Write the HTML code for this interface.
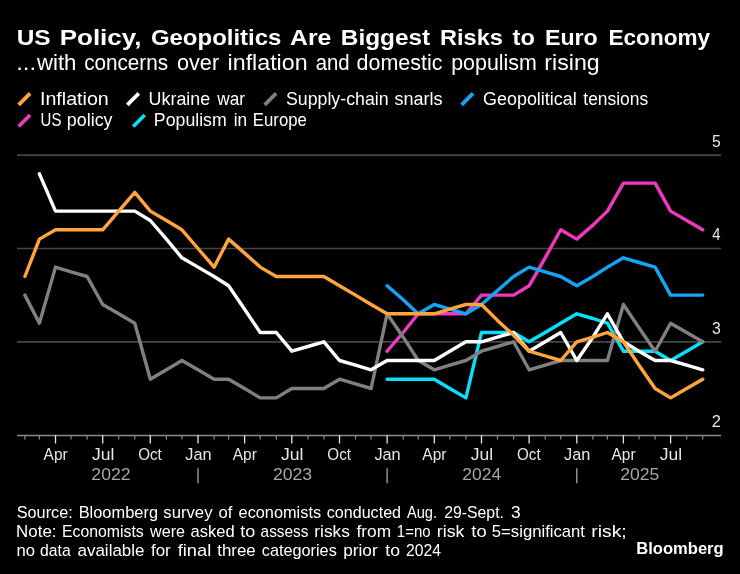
<!DOCTYPE html>
<html><head><meta charset="utf-8"><title>US Policy, Geopolitics Are Biggest Risks to Euro Economy</title>
<style>
html,body{margin:0;padding:0;background:#000;}
body{width:740px;height:574px;position:relative;overflow:hidden;font-family:"Liberation Sans",sans-serif;}
svg{position:absolute;left:0;top:0;}
svg.txt{will-change:transform;}
svg.txt text{font-family:"Liberation Sans",sans-serif;white-space:pre;}
</style></head>
<body>
<svg width="740" height="574" viewBox="0 0 740 574">
<line x1="17.0" x2="721.0" y1="155.1" y2="155.1" stroke="#464646" stroke-width="1.7"/>
<line x1="17.0" x2="721.0" y1="248.5" y2="248.5" stroke="#464646" stroke-width="1.7"/>
<line x1="17.0" x2="721.0" y1="341.8" y2="341.8" stroke="#464646" stroke-width="1.7"/>
<line x1="17.0" x2="721.0" y1="435.5" y2="435.5" stroke="#8a8a8a" stroke-width="1.4"/>
<line x1="24.9" x2="24.9" y1="435.2" y2="439.5" stroke="#8c8c8c" stroke-width="1.2"/>
<line x1="39.4" x2="39.4" y1="435.2" y2="439.5" stroke="#8c8c8c" stroke-width="1.2"/>
<line x1="55.5" x2="55.5" y1="435.2" y2="443.5" stroke="#e6e6e6" stroke-width="1.3"/>
<line x1="71.0" x2="71.0" y1="435.2" y2="439.5" stroke="#8c8c8c" stroke-width="1.2"/>
<line x1="87.1" x2="87.1" y1="435.2" y2="439.5" stroke="#8c8c8c" stroke-width="1.2"/>
<line x1="102.7" x2="102.7" y1="435.2" y2="443.5" stroke="#e6e6e6" stroke-width="1.3"/>
<line x1="118.7" x2="118.7" y1="435.2" y2="439.5" stroke="#8c8c8c" stroke-width="1.2"/>
<line x1="134.8" x2="134.8" y1="435.2" y2="439.5" stroke="#8c8c8c" stroke-width="1.2"/>
<line x1="150.3" x2="150.3" y1="435.2" y2="443.5" stroke="#e6e6e6" stroke-width="1.3"/>
<line x1="166.4" x2="166.4" y1="435.2" y2="439.5" stroke="#8c8c8c" stroke-width="1.2"/>
<line x1="181.9" x2="181.9" y1="435.2" y2="439.5" stroke="#8c8c8c" stroke-width="1.2"/>
<line x1="198.0" x2="198.0" y1="435.2" y2="443.5" stroke="#e6e6e6" stroke-width="1.3"/>
<line x1="214.1" x2="214.1" y1="435.2" y2="439.5" stroke="#8c8c8c" stroke-width="1.2"/>
<line x1="228.6" x2="228.6" y1="435.2" y2="439.5" stroke="#8c8c8c" stroke-width="1.2"/>
<line x1="244.6" x2="244.6" y1="435.2" y2="443.5" stroke="#e6e6e6" stroke-width="1.3"/>
<line x1="260.2" x2="260.2" y1="435.2" y2="439.5" stroke="#8c8c8c" stroke-width="1.2"/>
<line x1="276.3" x2="276.3" y1="435.2" y2="439.5" stroke="#8c8c8c" stroke-width="1.2"/>
<line x1="291.8" x2="291.8" y1="435.2" y2="443.5" stroke="#e6e6e6" stroke-width="1.3"/>
<line x1="307.9" x2="307.9" y1="435.2" y2="439.5" stroke="#8c8c8c" stroke-width="1.2"/>
<line x1="323.9" x2="323.9" y1="435.2" y2="439.5" stroke="#8c8c8c" stroke-width="1.2"/>
<line x1="339.5" x2="339.5" y1="435.2" y2="443.5" stroke="#e6e6e6" stroke-width="1.3"/>
<line x1="355.5" x2="355.5" y1="435.2" y2="439.5" stroke="#8c8c8c" stroke-width="1.2"/>
<line x1="371.1" x2="371.1" y1="435.2" y2="439.5" stroke="#8c8c8c" stroke-width="1.2"/>
<line x1="387.1" x2="387.1" y1="435.2" y2="443.5" stroke="#e6e6e6" stroke-width="1.3"/>
<line x1="403.2" x2="403.2" y1="435.2" y2="439.5" stroke="#8c8c8c" stroke-width="1.2"/>
<line x1="418.2" x2="418.2" y1="435.2" y2="439.5" stroke="#8c8c8c" stroke-width="1.2"/>
<line x1="434.3" x2="434.3" y1="435.2" y2="443.5" stroke="#e6e6e6" stroke-width="1.3"/>
<line x1="449.8" x2="449.8" y1="435.2" y2="439.5" stroke="#8c8c8c" stroke-width="1.2"/>
<line x1="465.9" x2="465.9" y1="435.2" y2="439.5" stroke="#8c8c8c" stroke-width="1.2"/>
<line x1="481.5" x2="481.5" y1="435.2" y2="443.5" stroke="#e6e6e6" stroke-width="1.3"/>
<line x1="497.5" x2="497.5" y1="435.2" y2="439.5" stroke="#8c8c8c" stroke-width="1.2"/>
<line x1="513.6" x2="513.6" y1="435.2" y2="439.5" stroke="#8c8c8c" stroke-width="1.2"/>
<line x1="529.1" x2="529.1" y1="435.2" y2="443.5" stroke="#e6e6e6" stroke-width="1.3"/>
<line x1="545.2" x2="545.2" y1="435.2" y2="439.5" stroke="#8c8c8c" stroke-width="1.2"/>
<line x1="560.7" x2="560.7" y1="435.2" y2="439.5" stroke="#8c8c8c" stroke-width="1.2"/>
<line x1="576.8" x2="576.8" y1="435.2" y2="443.5" stroke="#e6e6e6" stroke-width="1.3"/>
<line x1="592.9" x2="592.9" y1="435.2" y2="439.5" stroke="#8c8c8c" stroke-width="1.2"/>
<line x1="607.4" x2="607.4" y1="435.2" y2="439.5" stroke="#8c8c8c" stroke-width="1.2"/>
<line x1="623.4" x2="623.4" y1="435.2" y2="443.5" stroke="#e6e6e6" stroke-width="1.3"/>
<line x1="639.0" x2="639.0" y1="435.2" y2="439.5" stroke="#8c8c8c" stroke-width="1.2"/>
<line x1="655.1" x2="655.1" y1="435.2" y2="439.5" stroke="#8c8c8c" stroke-width="1.2"/>
<line x1="670.6" x2="670.6" y1="435.2" y2="443.5" stroke="#e6e6e6" stroke-width="1.3"/>
<line x1="686.7" x2="686.7" y1="435.2" y2="439.5" stroke="#8c8c8c" stroke-width="1.2"/>
<line x1="702.7" x2="702.7" y1="435.2" y2="439.5" stroke="#8c8c8c" stroke-width="1.2"/>
<line x1="198.0" x2="198.0" y1="468.3" y2="483.3" stroke="#a6a6a6" stroke-width="1.3"/>
<line x1="387.1" x2="387.1" y1="468.3" y2="483.3" stroke="#a6a6a6" stroke-width="1.3"/>
<line x1="576.8" x2="576.8" y1="468.3" y2="483.3" stroke="#a6a6a6" stroke-width="1.3"/>
<polyline points="387.1,379.2 403.2,379.2 418.2,379.2 434.3,379.2 449.8,388.5 465.9,397.9 481.5,332.5 497.5,332.5 513.6,332.5 529.1,341.8 545.2,332.5 560.7,323.2 576.8,313.8 592.9,318.5 607.4,323.2 623.4,351.2 639.0,351.2 655.1,351.2 670.6,360.5 686.7,351.2 702.7,341.8" fill="none" stroke="#08e0fa" stroke-width="3.4" stroke-linejoin="round" stroke-linecap="round"/>
<polyline points="387.1,351.2 403.2,332.5 418.2,313.8 434.3,313.8 449.8,313.8 465.9,313.8 481.5,295.1 497.5,295.1 513.6,295.1 529.1,285.8 545.2,257.8 560.7,229.8 576.8,239.1 592.9,225.1 607.4,211.1 623.4,183.1 639.0,183.1 655.1,183.1 670.6,211.1 686.7,220.5 702.7,229.8" fill="none" stroke="#f038c0" stroke-width="3.4" stroke-linejoin="round" stroke-linecap="round"/>
<polyline points="387.1,285.8 403.2,299.8 418.2,313.8 434.3,304.5 449.8,309.2 465.9,313.8 481.5,304.5 497.5,290.5 513.6,276.5 529.1,267.1 545.2,271.8 560.7,276.5 576.8,285.8 592.9,276.5 607.4,267.1 623.4,257.8 639.0,262.5 655.1,267.1 670.6,295.1 686.7,295.1 702.7,295.1" fill="none" stroke="#12a5f8" stroke-width="3.4" stroke-linejoin="round" stroke-linecap="round"/>
<polyline points="24.9,295.1 39.4,323.2 55.5,267.1 71.0,271.8 87.1,276.5 102.7,304.5 118.7,313.8 134.8,323.2 150.3,379.2 166.4,369.8 181.9,360.5 198.0,369.8 214.1,379.2 228.6,379.2 244.6,388.5 260.2,397.9 276.3,397.9 291.8,388.5 307.9,388.5 323.9,388.5 339.5,379.2 355.5,383.8 371.1,388.5 387.1,313.8 403.2,337.2 418.2,360.5 434.3,369.8 449.8,365.2 465.9,360.5 481.5,351.2 497.5,346.5 513.6,341.8 529.1,369.8 545.2,365.2 560.7,360.5 576.8,360.5 592.9,360.5 607.4,360.5 623.4,304.5 639.0,327.8 655.1,351.2 670.6,323.2 686.7,332.5 702.7,341.8" fill="none" stroke="#808080" stroke-width="3.4" stroke-linejoin="round" stroke-linecap="round"/>
<polyline points="39.4,173.8 55.5,211.1 71.0,211.1 87.1,211.1 102.7,211.1 118.7,211.1 134.8,211.1 150.3,220.5 166.4,239.1 181.9,257.8 198.0,267.1 214.1,276.5 228.6,285.8 244.6,309.2 260.2,332.5 276.3,332.5 291.8,351.2 307.9,346.5 323.9,341.8 339.5,360.5 355.5,365.2 371.1,369.8 387.1,360.5 403.2,360.5 418.2,360.5 434.3,360.5 449.8,351.2 465.9,341.8 481.5,341.8 497.5,337.2 513.6,332.5 529.1,351.2 545.2,341.8 560.7,332.5 576.8,360.5 592.9,337.2 607.4,313.8 623.4,341.8 639.0,351.2 655.1,360.5 670.6,360.5 686.7,365.2 702.7,369.8" fill="none" stroke="#ffffff" stroke-width="3.4" stroke-linejoin="round" stroke-linecap="round"/>
<polyline points="24.9,276.5 39.4,239.1 55.5,229.8 71.0,229.8 87.1,229.8 102.7,229.8 118.7,211.1 134.8,192.4 150.3,211.1 166.4,220.5 181.9,229.8 198.0,248.5 214.1,267.1 228.6,239.1 244.6,253.1 260.2,267.1 276.3,276.5 291.8,276.5 307.9,276.5 323.9,276.5 339.5,285.8 355.5,295.1 371.1,304.5 387.1,313.8 403.2,313.8 418.2,313.8 434.3,313.8 449.8,309.2 465.9,304.5 481.5,304.5 497.5,320.4 513.6,335.3 529.1,351.2 545.2,355.8 560.7,360.5 576.8,341.8 592.9,337.2 607.4,332.5 623.4,341.8 639.0,365.2 655.1,388.5 670.6,397.9 686.7,388.5 702.7,379.2" fill="none" stroke="#ffa53a" stroke-width="3.4" stroke-linejoin="round" stroke-linecap="round"/>
<line x1="18.65" y1="104.85" x2="30.15" y2="93.35" stroke="#ffa53a" stroke-width="3.7"/>
<line x1="127.30" y1="104.85" x2="138.80" y2="93.35" stroke="#ffffff" stroke-width="3.7"/>
<line x1="264.65" y1="104.85" x2="276.15" y2="93.35" stroke="#808080" stroke-width="3.7"/>
<line x1="461.55" y1="104.85" x2="473.05" y2="93.35" stroke="#12a5f8" stroke-width="3.7"/>
<line x1="18.65" y1="126.55" x2="30.15" y2="115.05" stroke="#f038c0" stroke-width="3.7"/>
<line x1="133.20" y1="126.55" x2="144.70" y2="115.05" stroke="#08e0fa" stroke-width="3.7"/>
</svg>
<svg class="txt" width="740" height="574" viewBox="0 0 740 574">
<text transform="translate(16.63,45) scale(1.0710,1)" font-size="22.8" font-weight="700" fill="#fff">US</text>
<text transform="translate(59.68,45) scale(1.1397,1)" font-size="22.8" font-weight="700" fill="#fff">Policy,</text>
<text transform="translate(150.92,45) scale(1.0515,1)" font-size="22.8" font-weight="700" fill="#fff">Geopolitics</text>
<text transform="translate(290.11,45) scale(1.0849,1)" font-size="22.8" font-weight="700" fill="#fff">Are</text>
<text transform="translate(340.79,45) scale(1.0693,1)" font-size="22.8" font-weight="700" fill="#fff">Biggest</text>
<text transform="translate(440.05,45) scale(1.0323,1)" font-size="22.8" font-weight="700" fill="#fff">Risks</text>
<text transform="translate(512.62,45) scale(1.0314,1)" font-size="22.8" font-weight="700" fill="#fff">to</text>
<text transform="translate(544.97,45) scale(1.0173,1)" font-size="22.8" font-weight="700" fill="#fff">Euro</text>
<text transform="translate(608.51,45) scale(0.9901,1)" font-size="22.8" font-weight="700" fill="#fff">Economy</text>
<text transform="translate(16.22,70) scale(1.0778,1)" font-size="22.2" fill="#fff">...</text>
<text transform="translate(37.04,70) scale(0.9975,1)" font-size="22.2" fill="#fff">with</text>
<text transform="translate(84.13,70) scale(0.9326,1)" font-size="22.2" fill="#fff">concerns</text>
<text transform="translate(176.99,70) scale(0.9763,1)" font-size="22.2" fill="#fff">over</text>
<text transform="translate(227.57,70) scale(1.0457,1)" font-size="22.2" fill="#fff">inflation</text>
<text transform="translate(315.74,70) scale(0.9171,1)" font-size="22.2" fill="#fff">and</text>
<text transform="translate(356.60,70) scale(0.9678,1)" font-size="22.2" fill="#fff">domestic</text>
<text transform="translate(451.23,70) scale(0.9630,1)" font-size="22.2" fill="#fff">populism</text>
<text transform="translate(544.37,70) scale(1.0424,1)" font-size="22.2" fill="#fff">rising</text>
<text transform="translate(39.94,105) scale(1.1165,1)" font-size="17.6" fill="#fff">Inflation</text>
<text transform="translate(148.62,105) scale(1.0167,1)" font-size="17.6" fill="#fff">Ukraine</text>
<text transform="translate(217.33,105) scale(0.9784,1)" font-size="17.6" fill="#fff">war</text>
<text transform="translate(285.95,105) scale(1.0092,1)" font-size="17.6" fill="#fff">Supply-chain</text>
<text transform="translate(394.51,105) scale(1.0251,1)" font-size="17.6" fill="#fff">snarls</text>
<text transform="translate(483.10,105) scale(1.0176,1)" font-size="17.6" fill="#fff">Geopolitical</text>
<text transform="translate(583.34,105) scale(0.9898,1)" font-size="17.6" fill="#fff">tensions</text>
<text transform="translate(40.60,126) scale(0.8520,1)" font-size="17.6" fill="#fff">US</text>
<text transform="translate(66.86,126) scale(1.0150,1)" font-size="17.6" fill="#fff">policy</text>
<text transform="translate(153.85,126) scale(1.0071,1)" font-size="17.6" fill="#fff">Populism</text>
<text transform="translate(233.66,126) scale(0.9820,1)" font-size="17.6" fill="#fff">in</text>
<text transform="translate(252.82,126) scale(0.9537,1)" font-size="17.6" fill="#fff">Europe</text>
<text transform="translate(16.77,518) scale(0.9333,1)" font-size="17.4" fill="#fff">Source:</text>
<text transform="translate(78.65,518) scale(0.9436,1)" font-size="17.4" fill="#fff">Bloomberg</text>
<text transform="translate(163.30,518) scale(0.9608,1)" font-size="17.4" fill="#fff">survey</text>
<text transform="translate(218.55,518) scale(0.9591,1)" font-size="17.4" fill="#fff">of</text>
<text transform="translate(238.56,518) scale(0.9388,1)" font-size="17.4" fill="#fff">economists</text>
<text transform="translate(326.82,518) scale(0.9241,1)" font-size="17.4" fill="#fff">conducted</text>
<text transform="translate(406.97,518) scale(0.8413,1)" font-size="17.4" fill="#fff">Aug.</text>
<text transform="translate(444.21,518) scale(0.9081,1)" font-size="17.4" fill="#fff">29-Sept.</text>
<text transform="translate(511.09,518) scale(0.9982,1)" font-size="17.4" fill="#fff">3</text>
<text transform="translate(16.11,537) scale(0.9721,1)" font-size="17.4" fill="#fff">Note:</text>
<text transform="translate(61.95,537) scale(0.9104,1)" font-size="17.4" fill="#fff">Economists</text>
<text transform="translate(150.03,537) scale(0.9263,1)" font-size="17.4" fill="#fff">were</text>
<text transform="translate(190.55,537) scale(0.9534,1)" font-size="17.4" fill="#fff">asked</text>
<text transform="translate(240.23,537) scale(1.0342,1)" font-size="17.4" fill="#fff">to</text>
<text transform="translate(260.60,537) scale(0.8856,1)" font-size="17.4" fill="#fff">assess</text>
<text transform="translate(314.36,537) scale(0.9932,1)" font-size="17.4" fill="#fff">risks</text>
<text transform="translate(356.51,537) scale(0.9948,1)" font-size="17.4" fill="#fff">from</text>
<text transform="translate(396.86,537) scale(0.8614,1)" font-size="17.4" fill="#fff">1=no</text>
<text transform="translate(436.83,537) scale(1.0215,1)" font-size="17.4" fill="#fff">risk</text>
<text transform="translate(471.32,537) scale(1.0563,1)" font-size="17.4" fill="#fff">to</text>
<text transform="translate(491.83,537) scale(0.9596,1)" font-size="17.4" fill="#fff">5=significant</text>
<text transform="translate(591.22,537) scale(1.1138,1)" font-size="17.4" fill="#fff">risk;</text>
<text transform="translate(16.40,556) scale(0.9579,1)" font-size="17.4" fill="#fff">no</text>
<text transform="translate(40.09,556) scale(0.9051,1)" font-size="17.4" fill="#fff">data</text>
<text transform="translate(77.54,556) scale(0.9750,1)" font-size="17.4" fill="#fff">available</text>
<text transform="translate(151.01,556) scale(0.9730,1)" font-size="17.4" fill="#fff">for</text>
<text transform="translate(177.74,556) scale(1.0485,1)" font-size="17.4" fill="#fff">final</text>
<text transform="translate(217.25,556) scale(0.9708,1)" font-size="17.4" fill="#fff">three</text>
<text transform="translate(261.82,556) scale(0.9344,1)" font-size="17.4" fill="#fff">categories</text>
<text transform="translate(343.14,556) scale(0.9948,1)" font-size="17.4" fill="#fff">prior</text>
<text transform="translate(385.23,556) scale(1.0157,1)" font-size="17.4" fill="#fff">to</text>
<text transform="translate(405.96,556) scale(0.9043,1)" font-size="17.4" fill="#fff">2024</text>
<text transform="translate(636.21,554) scale(0.9752,1)" font-size="17" font-weight="700" fill="#fff">Bloomberg</text>
<text transform="translate(43.57,460) scale(0.9211,1)" font-size="16.8" fill="#e6e6e6">Apr</text>
<text transform="translate(91.89,460) scale(1.0443,1)" font-size="16.8" fill="#e6e6e6">Jul</text>
<text transform="translate(138.22,460) scale(0.9036,1)" font-size="16.8" fill="#e6e6e6">Oct</text>
<text transform="translate(185.26,460) scale(0.9707,1)" font-size="16.8" fill="#e6e6e6">Jan</text>
<text transform="translate(232.71,460) scale(0.9211,1)" font-size="16.8" fill="#e6e6e6">Apr</text>
<text transform="translate(281.03,460) scale(1.0443,1)" font-size="16.8" fill="#e6e6e6">Jul</text>
<text transform="translate(327.36,460) scale(0.9036,1)" font-size="16.8" fill="#e6e6e6">Oct</text>
<text transform="translate(374.40,460) scale(0.9707,1)" font-size="16.8" fill="#e6e6e6">Jan</text>
<text transform="translate(422.37,460) scale(0.9211,1)" font-size="16.8" fill="#e6e6e6">Apr</text>
<text transform="translate(470.69,460) scale(1.0443,1)" font-size="16.8" fill="#e6e6e6">Jul</text>
<text transform="translate(517.02,460) scale(0.9036,1)" font-size="16.8" fill="#e6e6e6">Oct</text>
<text transform="translate(564.06,460) scale(0.9707,1)" font-size="16.8" fill="#e6e6e6">Jan</text>
<text transform="translate(611.51,460) scale(0.9211,1)" font-size="16.8" fill="#e6e6e6">Apr</text>
<text transform="translate(659.84,460) scale(1.0443,1)" font-size="16.8" fill="#e6e6e6">Jul</text>
<text transform="translate(91.37,480) scale(1.0509,1)" font-size="16.8" fill="#a6a6a6">2022</text>
<text transform="translate(272.95,480) scale(1.0475,1)" font-size="16.8" fill="#a6a6a6">2023</text>
<text transform="translate(462.35,480) scale(1.0406,1)" font-size="16.8" fill="#a6a6a6">2024</text>
<text transform="translate(620.14,480) scale(1.0465,1)" font-size="16.8" fill="#a6a6a6">2025</text>
<text transform="translate(712.02,147) scale(0.9747,1)" font-size="16.2" fill="#e6e6e6">5</text>
<text transform="translate(712.32,240) scale(0.9168,1)" font-size="16.2" fill="#e6e6e6">4</text>
<text transform="translate(712.05,334) scale(0.9747,1)" font-size="16.2" fill="#e6e6e6">3</text>
<text transform="translate(711.83,427) scale(1.0153,1)" font-size="16.2" fill="#e6e6e6">2</text>
</svg>
</body></html>
